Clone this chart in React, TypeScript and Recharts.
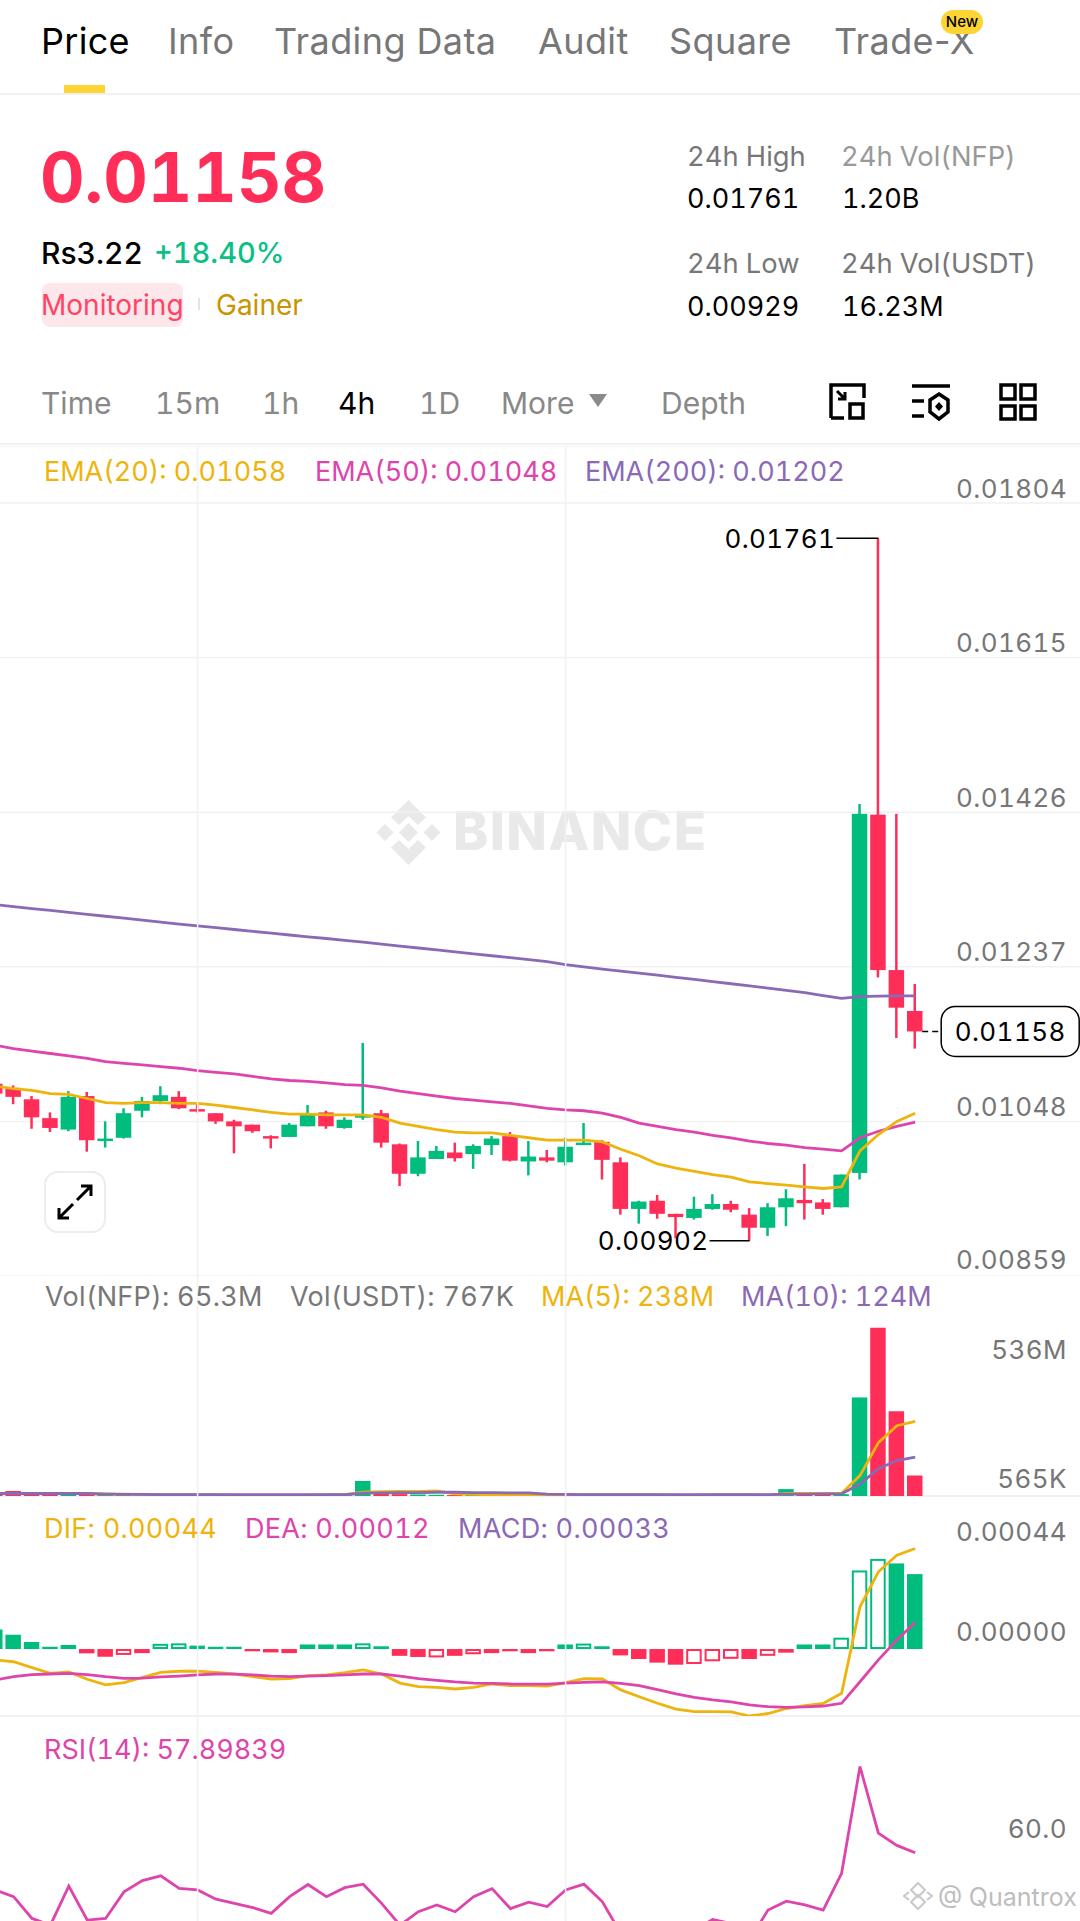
import React from 'react';
import { ComposedChart, Bar, Line, XAxis, YAxis, CartesianGrid, ReferenceDot, ReferenceLine } from 'recharts';

const UP = '#00BC7D';
const DOWN = '#FF2E58';
const YELLOW = '#EDB40E';
const PINK = '#DD45AC';
const PURPLE = '#8A69B5';
const GRID = '#F1F1F1';
const FONT = 'Inter, "Noto Sans", sans-serif';

const priceOpen = [0.01094,0.01089,0.01075,0.01052,0.01038,0.01079,0.01024,0.01028,0.01061,0.01073,0.01078,0.01063,0.01058,0.01048,0.01044,0.0103,0.01029,0.01042,0.01059,0.0104,0.01053,0.01058,0.0102,0.00984,0.01002,0.0101,0.01008,0.01019,0.0103,0.00999,0.01004,0.00998,0.01019,0.01023,0.00998,0.00941,0.00951,0.00935,0.0093,0.00941,0.00947,0.00934,0.00918,0.00943,0.00952,0.00949,0.00943,0.00985,0.01423,0.01233,0.01183];
const priceClose = [0.01082,0.01078,0.01053,0.0104,0.01078,0.01025,0.01027,0.01058,0.01073,0.0108,0.01064,0.0106,0.01048,0.01042,0.01036,0.01027,0.01044,0.01056,0.01042,0.0105,0.01055,0.01022,0.00984,0.01004,0.01012,0.01003,0.01018,0.01027,0.01,0.01005,0.01,0.01017,0.01022,0.01001,0.00941,0.0095,0.00935,0.00931,0.00941,0.00947,0.0094,0.00918,0.00943,0.00954,0.00948,0.00941,0.00983,0.01424,0.01233,0.01187,0.01158];
const priceHigh = [0.01097,0.01092,0.01079,0.01059,0.01085,0.01084,0.01048,0.01064,0.01078,0.01091,0.01085,0.0107,0.01058,0.0105,0.01044,0.01031,0.01046,0.01068,0.01061,0.01053,0.01144,0.01062,0.01021,0.01024,0.01018,0.01022,0.0102,0.0103,0.01035,0.01024,0.01013,0.01028,0.01046,0.01025,0.01004,0.00951,0.00958,0.00935,0.00956,0.00959,0.00951,0.00942,0.00948,0.00965,0.00996,0.00953,0.00983,0.01436,0.01761,0.01424,0.01216];
const priceLow = [0.01079,0.01069,0.01039,0.01035,0.01036,0.01011,0.01016,0.01027,0.01053,0.01069,0.01063,0.01059,0.01045,0.01009,0.01034,0.01015,0.01029,0.01042,0.01039,0.01039,0.0105,0.01016,0.00969,0.00981,0.01002,0.00999,0.0099,0.01007,0.00999,0.00982,0.00998,0.00994,0.01019,0.00977,0.00934,0.00923,0.00929,0.00905,0.00928,0.0094,0.00937,0.00902,0.00908,0.0092,0.00928,0.00934,0.00943,0.00977,0.01224,0.0115,0.01137];

const ema20 = [0.01091,0.01088,0.01086,0.01082,0.01081,0.01076,0.01071,0.0107,0.01071,0.01071,0.0107,0.0107,0.01068,0.01065,0.01062,0.01059,0.01057,0.01057,0.01056,0.01056,0.01056,0.01053,0.01046,0.01042,0.01038,0.01035,0.01034,0.01034,0.01031,0.01028,0.01025,0.01025,0.01025,0.01023,0.01014,0.01006,0.00996,0.00991,0.00987,0.00983,0.0098,0.00974,0.00972,0.0097,0.00968,0.00966,0.00968,0.01012,0.01032,0.01048,0.01058];
const ema50 = [0.01141,0.01137,0.01134,0.01131,0.01128,0.01125,0.01121,0.01119,0.01117,0.01115,0.01113,0.0111,0.01108,0.01106,0.01103,0.011,0.01098,0.01097,0.01095,0.01093,0.01092,0.01089,0.01085,0.01082,0.01079,0.01076,0.01074,0.01072,0.0107,0.01067,0.01064,0.01062,0.01061,0.01058,0.01053,0.01046,0.01042,0.01038,0.01035,0.01031,0.01028,0.01024,0.01021,0.01019,0.01016,0.01014,0.01012,0.01028,0.01036,0.01042,0.01047];
const ema200 = [0.013130,0.013106,0.013082,0.013059,0.013036,0.013012,0.012988,0.012964,0.012941,0.012917,0.012893,0.012870,0.012848,0.012826,0.012803,0.012781,0.012759,0.012737,0.012716,0.012693,0.012671,0.012648,0.012623,0.012600,0.012576,0.012552,0.012529,0.012505,0.012481,0.012458,0.012432,0.012396,0.012368,0.012341,0.012316,0.012292,0.012267,0.012241,0.012215,0.012189,0.012163,0.012137,0.012110,0.012082,0.012053,0.012019,0.011985,0.012005,0.012012,0.012014,0.012015];

const volume = [7,16,8,6,9,10,5,5,4,4,3,3,3,3,3,3,3,4,4,3,48,10,6,5,4,3,4,4,4,3,3,4,3,3,4,3,3,3,3,4,3,3,3,22,5,6,6,314,536,270,65.3];
const volMa5 = [8,8,8,8,8,8,7,6,5,5,4,4,4,3,3,3,3,3,4,4,12,14,15,15,16,7,5,4,4,4,4,4,4,4,4,4,4,3,3,4,4,4,3,8,8,8,9,65,170,224,238];
const volMa10 = [8,8,8,8,8,8,6,5,5,4,4,4,4,4,4,4,4,4,4,4,9,10,11,11,12,12,11,11,10,10,6,5,4,4,4,4,4,4,4,4,4,4,4,6,6,7,7,38,87,113,124];

const macdHist = [0.000086,0.000063,0.000031,0.00001,0.000018,-0.000019,-0.000034,-0.000026,-0.000018,0.000023,0.000025,0.000015,0.00001,0.00001,-0.00001,-0.000015,-0.000018,0.00002,0.00002,0.00002,0.000025,0.000012,-0.00003,-0.000035,-0.000037,-0.00003,-0.000023,-0.000018,-0.00001,-0.000018,-0.00001,0.00002,0.000024,0.000012,-0.000028,-0.000044,-0.00006,-0.000069,-0.000066,-0.000054,-0.000043,-0.000044,-0.00003,-0.000016,0.00002,0.00002,0.00005,0.000346,0.000397,0.000377,0.00033];
const macdHollow = [7,9,10,20,24,26,32,38,39,40,42,46,47,48];
const dif = [-0.000048,-0.000056,-0.000082,-0.000107,-0.000101,-0.000133,-0.000158,-0.000148,-0.000125,-0.000103,-0.000098,-0.000097,-0.000103,-0.00011,-0.000122,-0.000133,-0.00013,-0.000117,-0.000114,-0.000104,-0.000092,-0.00011,-0.00015,-0.000166,-0.000169,-0.000176,-0.000169,-0.000154,-0.000161,-0.000161,-0.000163,-0.000148,-0.00013,-0.000132,-0.00018,-0.00021,-0.000239,-0.000265,-0.000276,-0.000276,-0.000277,-0.000295,-0.000284,-0.000262,-0.000249,-0.00024,-0.000195,0.000186,0.00034,0.000413,0.000443];
const dea = [-0.000136,-0.000122,-0.000113,-0.00011,-0.000107,-0.000113,-0.000122,-0.000129,-0.000128,-0.000123,-0.000119,-0.000114,-0.00011,-0.000111,-0.000114,-0.000119,-0.000122,-0.000119,-0.000117,-0.000114,-0.00011,-0.00011,-0.000119,-0.00013,-0.000138,-0.000145,-0.00015,-0.000151,-0.000154,-0.000155,-0.000155,-0.00015,-0.000147,-0.000145,-0.000151,-0.000161,-0.000179,-0.000198,-0.000213,-0.000224,-0.000233,-0.000246,-0.000254,-0.000257,-0.000255,-0.000251,-0.000239,-0.000144,-0.000048,0.00004,0.000117];

const rsi = [46.3,44.2,37.4,35.3,47.5,36.9,37.4,45.7,49.2,50.7,46.8,46.3,43.4,42.1,40.8,39,44.2,48,44.2,47,48.1,42.1,35.3,39.5,41.6,39.5,44.2,46.7,40.5,42.5,41.1,46.3,48.1,42.6,32.7,29.6,29.6,30.6,33.8,37.1,35.8,30.7,40,42.8,41.6,40,51.5,84.8,64,60.2,57.9];

const priceTicks = [0.00859, 0.01048, 0.01237, 0.01426, 0.01615, 0.01804];
const volumeTicks = [0.565, 536];
const macdTicks = [0, 0.00044];
const rsiTicks = [60];
const gridCandles = [11, 31];

// empty rows on the right leave the space for the axis labels
const rows = Array.from({ length: 60 }, (_, i) => ({
  i,
  open: priceOpen[i],
  close: priceClose[i],
  high: priceHigh[i],
  low: priceLow[i],
  ema20: ema20[i],
  ema50: ema50[i],
  ema200: ema200[i],
  volume: volume[i],
  volMa5: volMa5[i],
  volMa10: volMa10[i],
  macd: macdHist[i],
  dif: dif[i],
  dea: dea[i],
  rsi: rsi[i],
}));

// plot is 1104 wide, the y axis needs 1px or it is not drawn
const CHART_W = 1105;
const CHART_LEFT = -14.5;
const LABEL_X = 1081;
const TABULAR = { fontVariantNumeric: 'tabular-nums' };

function Candle(props: any) {
  const { x, y, width, height, payload } = props;
  if (payload.high == null) return null;
  const unit = Math.abs(height) / (payload.high - payload.low);
  const yOf = (v: number) => y + (payload.high - v) * unit;
  const color = payload.close >= payload.open ? UP : DOWN;
  const top = yOf(Math.max(payload.open, payload.close));
  const bot = yOf(Math.min(payload.open, payload.close));
  return (
    <g>
      <rect x={x + width / 2 - 1.25} y={y} width={2.5} height={Math.abs(height)} fill={color} />
      <rect x={x} y={top} width={width} height={Math.max(bot - top, 2)} fill={color} />
    </g>
  );
}

function VolumeBar(props: any) {
  const { x, y, width, height, payload } = props;
  if (payload.volume == null) return null;
  return <rect x={x} y={y} width={width} height={height} fill={payload.close >= payload.open ? UP : DOWN} />;
}

function MacdBar(props: any) {
  const { x, y, width, height, payload } = props;
  if (payload.macd == null) return null;
  const color = payload.macd >= 0 ? UP : DOWN;
  const top = Math.min(y, y + height);
  const h = Math.abs(height);
  if (macdHollow.includes(payload.i)) {
    return <rect x={x + 1} y={top + 1} width={width - 2} height={Math.max(h - 2, 1)} fill="#fff" stroke={color} strokeWidth={2} />;
  }
  return <rect x={x} y={top} width={width} height={Math.max(h, 2)} fill={color} />;
}

const axisTick = (format: (v: number) => string, offset: (v: number) => number) => (props: any) => (
  <text x={LABEL_X} y={props.y + offset(props.payload.value)} textAnchor="end" dominantBaseline="central" fontFamily={FONT} fontSize={26} letterSpacing={0.4} fill="#767676" style={TABULAR}>
    {format(props.payload.value)}
  </text>
);

function Pane({ top, height, children }: any) {
  return (
    <div style={{ position: 'absolute', left: CHART_LEFT, top, width: CHART_W, height }}>
      <ComposedChart width={CHART_W} height={height} data={rows} margin={{ top: 0, right: 0, bottom: 0, left: 0 }}>
        <XAxis dataKey="i" hide scale="band" />
        {children}
        {gridCandles.map((c) => (
          <ReferenceLine key={c} x={c} stroke={GRID} strokeWidth={1.5} />
        ))}
      </ComposedChart>
    </div>
  );
}

function Txt({ x, y, size = 27, color = '#000', weight = 400, children, spacing = 0, plain = false }: any) {
  return (
    <div style={{ position: 'absolute', left: x, top: y, transform: 'translateY(-50%)', fontFamily: FONT, fontSize: size, color, fontWeight: weight, whiteSpace: 'nowrap', letterSpacing: spacing, lineHeight: 1.2, ...(plain ? {} : TABULAR) }}>
      {children}
    </div>
  );
}

function Rule({ y, h = 2 }: any) {
  return <div style={{ position: 'absolute', left: 0, top: y, width: 1080, height: h, background: GRID }} />;
}

function Header() {
  const tabs: [string, number][] = [['Info', 168], ['Trading Data', 274], ['Audit', 538], ['Square', 669], ['Trade-X', 834]];
  const times: [string, number, string][] = [['Time', 41, '#888'], ['15m', 155, '#888'], ['1h', 262, '#888'], ['4h', 338, '#000'], ['1D', 419, '#888'], ['More', 501, '#888'], ['Depth', 661, '#888']];
  return (
    <>
      <Txt x={41} y={42} size={36} spacing={0.3} plain>Price</Txt>
      {tabs.map(([t, x]) => (
        <Txt key={t} x={x} y={42} size={36} color="#777" spacing={0.4} plain>{t}</Txt>
      ))}
      <div style={{ position: 'absolute', left: 941, top: 10, width: 42, height: 24, borderRadius: 12, background: '#FCD535', textAlign: 'center', fontFamily: FONT, fontSize: 15, lineHeight: '24px', fontWeight: 500 }}>New</div>
      <div style={{ position: 'absolute', left: 64, top: 85, width: 41, height: 8, background: '#FCD535' }} />
      <Rule y={93} />

      <Txt x={40} y={177} size={69} color={DOWN} weight={700}>0.01158</Txt>
      <Txt x={41} y={253} size={30} weight={500}>Rs3.22</Txt>
      <Txt x={154} y={253} size={29} color="#0BBF85" weight={500}>+18.40%</Txt>
      <div style={{ position: 'absolute', left: 42, top: 283, width: 141, height: 44, borderRadius: 8, background: '#FDE7EB' }} />
      <Txt x={41} y={306} size={28} color="#FF4466">Monitoring</Txt>
      <div style={{ position: 'absolute', left: 198, top: 298, width: 2, height: 12, background: '#e2e2e2' }} />
      <Txt x={216} y={306} size={28} color="#C99400">Gainer</Txt>

      <Txt x={687} y={157} size={27.3} color="#777">24h High</Txt>
      <Txt x={841} y={157} size={27.3} color="#999">24h Vol(NFP)</Txt>
      <Txt x={687} y={199} size={27}>0.01761</Txt>
      <Txt x={842} y={199} size={27}>1.20B</Txt>
      <Txt x={687} y={264} size={27.3} color="#777">24h Low</Txt>
      <Txt x={841} y={264} size={27.3} color="#777">24h Vol(USDT)</Txt>
      <Txt x={687} y={307} size={27}>0.00929</Txt>
      <Txt x={842} y={307} size={27}>16.23M</Txt>

      {times.map(([t, x, c]) => (
        <Txt key={t} x={x} y={403} size={30} color={c}>{t}</Txt>
      ))}
      <svg style={{ position: 'absolute', left: 585, top: 390, width: 26, height: 20 }} viewBox="0 0 26 20">
        <polygon points="4,4 22,4 13,17" fill="#8a8a8a" />
      </svg>
      <svg style={{ position: 'absolute', left: 826, top: 380, width: 220, height: 44 }} viewBox="0 0 220 44" fill="none" stroke="#000" strokeWidth={3.5}>
        <path d="M5 38 V5 H38 V18 M5 38 H18" />
        <rect x="24" y="24" width="13" height="14" />
        <path d="M11 11 L19 19 M19 12 V19 H12" strokeWidth={3} />
        <path d="M86 6 H124 M86 21 H98 M86 36 H98" />
        <path d="M113 14 L122 20 V32 L113 39 L104 32 V20 Z" />
        <polygon points="113,22 117,26.5 113,31 109,26.5" fill="#000" stroke="none" />
        <rect x="175" y="5" width="14" height="14" />
        <rect x="195" y="5" width="14" height="14" />
        <rect x="175" y="26" width="14" height="13" />
        <rect x="195" y="26" width="14" height="13" />
      </svg>
      <Rule y={443} h={2} />
    </>
  );
}

function Watermarks() {
  return (
    <>
      <svg style={{ position: 'absolute', left: 376, top: 800, width: 65, height: 65 }} viewBox="0 0 65 65" fill="#E9E9E9">
        <polygon points="32.5,0 50,17.5 42,25 32.5,16 23,25 15,17.5" />
        <polygon points="32.5,65 50,47.5 42,40 32.5,49 23,40 15,47.5" />
        <polygon points="9,24 17.5,32.5 9,41 0.5,32.5" />
        <polygon points="56,24 64.5,32.5 56,41 47.5,32.5" />
        <polygon points="32.5,23 42,32.5 32.5,42 23,32.5" />
      </svg>
      <Txt x={453} y={832} size={53} color="#E9E9E9" weight={800} spacing={1.5}>BINANCE</Txt>
      <svg style={{ position: 'absolute', left: 903, top: 1882, width: 30, height: 28 }} viewBox="0 0 30 28" fill="none" stroke="#c9c9c9" strokeWidth={2}>
        <path d="M15 1 L22 8 L15 15 L8 8 Z M15 13 L22 20 L15 27 L8 20 Z M6 10 L1 14 L6 18 M24 10 L29 14 L24 18" />
      </svg>
      <Txt x={938} y={1897} size={25} color="#BDBDBD">@ Quantrox</Txt>
    </>
  );
}

export default function App() {
  return (
    <div style={{ position: 'absolute', left: 0, top: 0, width: 1080, height: 1921, overflow: 'hidden', background: '#fff' }}>
      <Watermarks />
      <Rule y={1495} />
      <Rule y={1715} />

      <Pane top={446} height={830}>
        <YAxis orientation="right" width={1} domain={[0.00859, 0.018737]} ticks={priceTicks} interval={0} allowDataOverflow axisLine={false} tickLine={false} tick={axisTick((v) => v.toFixed(5), (v) => (v < 0.0086 ? -17 : -15))} />
        <CartesianGrid vertical={false} stroke={GRID} strokeWidth={1.5} />
        <Bar dataKey={(r: any) => (r.high == null ? null : [r.low, r.high])} barSize={15.5} shape={<Candle />} isAnimationActive={false} />
        <Line dataKey="ema200" stroke={PURPLE} strokeWidth={2.8} dot={false} activeDot={false} type="linear" isAnimationActive={false} />
        <Line dataKey="ema50" stroke={PINK} strokeWidth={2.8} dot={false} activeDot={false} type="linear" isAnimationActive={false} />
        <Line dataKey="ema20" stroke={YELLOW} strokeWidth={2.8} dot={false} activeDot={false} type="linear" isAnimationActive={false} />
        <ReferenceDot
          x={48}
          y={0.01761}
          ifOverflow="visible"
          shape={(p: any) => (
            <g>
              <line x1={p.cx - 42} x2={p.cx} y1={p.cy} y2={p.cy} stroke="#000" strokeWidth={1.5} />
              <text x={p.cx - 43} y={p.cy} textAnchor="end" dominantBaseline="central" fontFamily={FONT} fontSize={26} letterSpacing={0.4} style={TABULAR}>0.01761</text>
            </g>
          )}
        />
        <ReferenceDot
          x={41}
          y={0.00902}
          ifOverflow="visible"
          shape={(p: any) => (
            <g>
              <line x1={p.cx - 40} x2={p.cx} y1={p.cy} y2={p.cy} stroke="#000" strokeWidth={1.5} />
              <text x={p.cx - 41} y={p.cy} textAnchor="end" dominantBaseline="central" fontFamily={FONT} fontSize={26} letterSpacing={0.4} style={TABULAR}>0.00902</text>
            </g>
          )}
        />
        <ReferenceDot
          x={50}
          y={0.01158}
          ifOverflow="visible"
          shape={(p: any) => (
            <g>
              <line x1={p.cx + 7} x2={p.cx + 26} y1={p.cy} y2={p.cy} stroke="#000" strokeWidth={1.5} strokeDasharray="6 4" />
              <rect x={p.cx + 26} y={p.cy - 25} width={138} height={50} rx={14} fill="#fff" stroke="#000" strokeWidth={1.5} />
              <text x={p.cx + 95} y={p.cy} textAnchor="middle" dominantBaseline="central" fontFamily={FONT} fontSize={26} letterSpacing={0.4} style={TABULAR}>0.01158</text>
            </g>
          )}
        />
      </Pane>

      <Pane top={1275} height={221}>
        <YAxis orientation="right" width={1} domain={[0, 704]} ticks={volumeTicks} interval={0} allowDataOverflow axisLine={false} tickLine={false} tick={axisTick((v) => (v >= 1 ? `${v}M` : `${Math.round(v * 1000)}K`), (v) => (v >= 1 ? 22 : -17))} />
        <Bar dataKey="volume" barSize={15.5} shape={<VolumeBar />} isAnimationActive={false} />
        <Line dataKey="volMa5" stroke={YELLOW} strokeWidth={2.8} dot={false} activeDot={false} type="linear" isAnimationActive={false} />
        <Line dataKey="volMa10" stroke={PURPLE} strokeWidth={2.8} dot={false} activeDot={false} type="linear" isAnimationActive={false} />
      </Pane>

      <Pane top={1496} height={220}>
        <YAxis orientation="right" width={1} domain={[-0.000295, 0.000674]} ticks={macdTicks} interval={0} allowDataOverflow axisLine={false} tickLine={false} tick={axisTick((v) => v.toFixed(5), () => -18)} />
        <Bar dataKey="macd" barSize={15.5} shape={<MacdBar />} isAnimationActive={false} />
        <Line dataKey="dif" stroke={YELLOW} strokeWidth={2.8} dot={false} activeDot={false} type="linear" isAnimationActive={false} />
        <Line dataKey="dea" stroke={PINK} strokeWidth={2.8} dot={false} activeDot={false} type="linear" isAnimationActive={false} />
      </Pane>

      <Pane top={1716} height={205}>
        <YAxis orientation="right" width={1} domain={[36.6, 100.6]} ticks={rsiTicks} interval={0} allowDataOverflow axisLine={false} tickLine={false} tick={axisTick((v) => v.toFixed(1), () => -18)} />
        <Line dataKey="rsi" stroke={PINK} strokeWidth={2.8} dot={false} activeDot={false} type="linear" isAnimationActive={false} />
      </Pane>

      <Header />

      <Txt x={44} y={472} size={27} color={YELLOW}>EMA(20): 0.01058</Txt>
      <Txt x={315} y={472} size={27} color={PINK}>EMA(50): 0.01048</Txt>
      <Txt x={585} y={472} size={27} color={PURPLE}>EMA(200): 0.01202</Txt>

      <Txt x={45} y={1297} size={27} spacing={0.3} color="#777">Vol(NFP): 65.3M</Txt>
      <Txt x={290} y={1297} size={27} spacing={0.3} color="#777">Vol(USDT): 767K</Txt>
      <Txt x={541} y={1297} size={27} color={YELLOW}>MA(5): 238M</Txt>
      <Txt x={741} y={1297} size={27} color={PURPLE}>MA(10): 124M</Txt>

      <Txt x={44} y={1529} size={27} spacing={0.3} color={YELLOW}>DIF: 0.00044</Txt>
      <Txt x={245} y={1529} size={27} spacing={0.3} color={PINK}>DEA: 0.00012</Txt>
      <Txt x={458} y={1529} size={27} spacing={0.3} color={PURPLE}>MACD: 0.00033</Txt>

      <Txt x={44} y={1750} size={27} color={PINK}>RSI(14): 57.89839</Txt>

      <div style={{ position: 'absolute', left: 44, top: 1171, width: 58, height: 58, border: '2px solid #EDEDED', borderRadius: 14, background: '#fff' }} />
      <svg style={{ position: 'absolute', left: 54, top: 1181, width: 42, height: 42 }} viewBox="0 0 42 42" fill="none" stroke="#000" strokeWidth={3}>
        <path d="M23 19 L36 6 M27 5 H37 V15 M19 23 L6 36 M5 27 V37 H15" />
      </svg>
    </div>
  );
}
